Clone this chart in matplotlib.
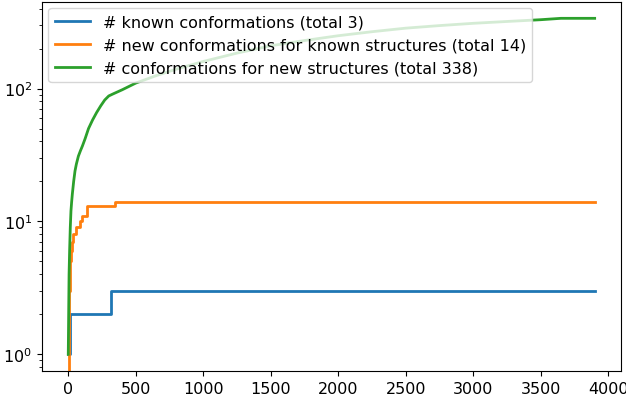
import matplotlib
matplotlib.use("Agg")
import matplotlib.pyplot as plt

known_x = [0, 15, 313, 3900]
known_y = [1, 2, 3, 3]

newk_x = [0, 3, 6, 9, 12, 15, 20, 25, 35, 55, 90, 105, 140, 345, 3900]
newk_y = [0, 1, 2, 3, 4, 5, 6, 7, 8, 9, 10, 11, 13, 14, 14]

news_x = [0, 3, 6, 10, 15, 20, 25, 30, 40, 50, 60, 75, 90, 105, 125, 150, 180, 210, 240, 270, 300,
          330, 400, 500, 650, 800, 1000, 1250, 1500, 1750, 2000, 2250, 2500, 2750, 3000, 3250,
          3500, 3650, 3900]
news_y = [1, 2, 4, 6, 9, 12, 14, 16, 20, 24, 27, 31, 34, 37, 42, 50, 58, 66, 74, 82, 88,
          91, 98, 110, 125, 140, 160, 185, 210, 230, 250, 268, 285, 298, 310, 320,
          330, 338, 338]

plt.rcParams["font.size"] = 12
fig = plt.figure(figsize=(6.26, 4.02), dpi=100)
ax = fig.add_axes([0.067, 0.075, 0.925, 0.918])
ax.plot(known_x, known_y, drawstyle="steps-post", lw=2, label="# known conformations (total 3)")
ax.plot(newk_x, newk_y, drawstyle="steps-post", lw=2, label="# new conformations for known structures (total 14)")
ax.plot(news_x, news_y, lw=2, label="# conformations for new structures (total 338)")
ax.set_yscale("log")
ax.set_ylim(0.75, 450)
ax.set_xlim(-195, 4095)
ax.tick_params(labelsize=11.5)
ax.legend(loc="upper left", fontsize=11.5, handlelength=2.2, borderaxespad=0.4)
fig.savefig("out.png", dpi=100)
